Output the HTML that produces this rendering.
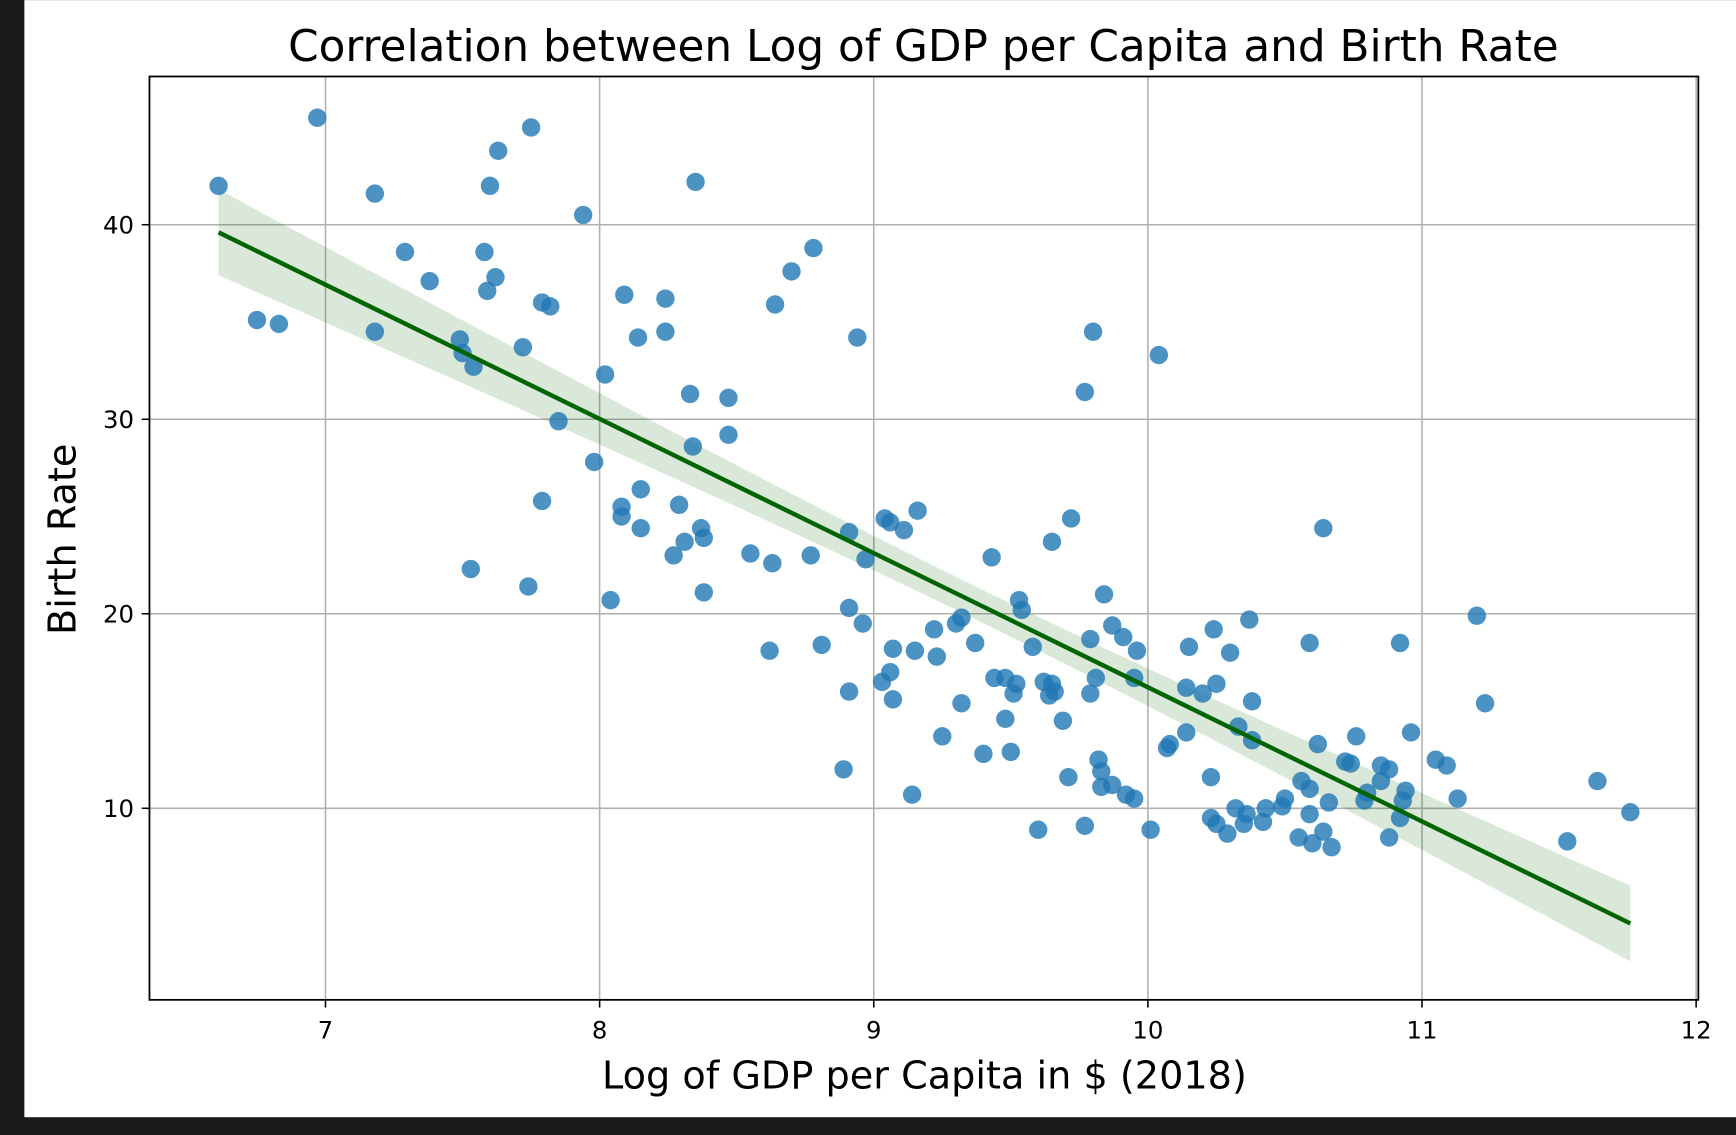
<!DOCTYPE html>
<html><head><meta charset="utf-8"><style>
html,body{margin:0;padding:0;background:#1a1a1a;}
svg{display:block;font-family:"DejaVu Sans","Liberation Sans",sans-serif;}
</style></head><body>
<svg id="chart" width="1736" height="1135" viewBox="0 0 1568 1025" xmlns="http://www.w3.org/2000/svg">
<rect x="0" y="0" width="1568" height="1025" fill="#1a1a1a"/>
<rect x="22" y="0" width="1546" height="1009" fill="#ffffff"/>
<g id="grid"></g>
<g id="band"></g>
<g id="points"></g>
<g id="fit"></g>
<rect x="135" y="69" width="1399" height="834" fill="none" stroke="#000" stroke-width="1.6"/>
<g id="ticks"></g>
<text x="834" y="55" text-anchor="middle" font-size="39.5" fill="#000">Correlation between Log of GDP per Capita and Birth Rate</text>
<text x="835" y="983" text-anchor="middle" font-size="34.5" fill="#000">Log of GDP per Capita in $ (2018)</text>
<text x="0" y="0" transform="translate(68,487) rotate(-90)" text-anchor="middle" font-size="34.5" fill="#000">Birth Rate</text>
</svg>
<script>
const xTicks = [7, 8, 9, 10, 11, 12];
const yTicks = [10, 20, 30, 40];
const gdpLog = [6.61,6.75,6.83,6.97,7.18,7.18,7.29,7.38,7.49,7.50,7.54,7.53,7.58,7.59,7.60,7.62,7.63,7.72,7.74,7.75,7.79,7.79,7.82,7.85,7.94,7.98,8.02,8.04,8.08,8.08,8.09,8.14,8.15,8.15,8.24,8.24,8.27,8.29,8.31,8.33,8.34,8.35,8.37,8.38,8.38,8.47,8.47,8.55,8.62,8.63,8.64,8.70,8.77,8.78,8.81,8.89,8.91,8.91,8.91,8.94,8.96,8.97,9.03,9.04,9.06,9.06,9.07,9.07,9.11,9.14,9.15,9.16,9.22,9.23,9.25,9.30,9.32,9.32,9.37,9.40,9.43,9.44,9.48,9.48,9.50,9.51,9.52,9.53,9.54,9.58,9.60,9.62,9.64,9.65,9.65,9.66,9.69,9.71,9.72,9.77,9.77,9.79,9.79,9.80,9.81,9.82,9.83,9.83,9.84,9.87,9.87,9.91,9.92,9.95,9.95,9.96,10.01,10.04,10.07,10.08,10.14,10.14,10.15,10.20,10.23,10.23,10.24,10.25,10.25,10.29,10.30,10.32,10.33,10.35,10.36,10.37,10.38,10.38,10.42,10.43,10.49,10.50,10.55,10.56,10.59,10.59,10.59,10.60,10.62,10.64,10.64,10.66,10.67,10.72,10.74,10.76,10.79,10.80,10.85,10.85,10.88,10.88,10.92,10.92,10.93,10.94,10.96,11.05,11.09,11.13,11.20,11.23,11.53,11.64,11.76];
const birthRate = [42.0,35.1,34.9,45.5,41.6,34.5,38.6,37.1,34.1,33.4,32.7,22.3,38.6,36.6,42.0,37.3,43.8,33.7,21.4,45.0,36.0,25.8,35.8,29.9,40.5,27.8,32.3,20.7,25.5,25.0,36.4,34.2,24.4,26.4,36.2,34.5,23.0,25.6,23.7,31.3,28.6,42.2,24.4,23.9,21.1,31.1,29.2,23.1,18.1,22.6,35.9,37.6,23.0,38.8,18.4,12.0,20.3,24.2,16.0,34.2,19.5,22.8,16.5,24.9,17.0,24.7,18.2,15.6,24.3,10.7,18.1,25.3,19.2,17.8,13.7,19.5,19.8,15.4,18.5,12.8,22.9,16.7,16.7,14.6,12.9,15.9,16.4,20.7,20.2,18.3,8.9,16.5,15.8,16.4,23.7,16.0,14.5,11.6,24.9,31.4,9.1,15.9,18.7,34.5,16.7,12.5,11.9,11.1,21.0,11.2,19.4,18.8,10.7,10.5,16.7,18.1,8.9,33.3,13.1,13.3,13.9,16.2,18.3,15.9,11.6,9.5,19.2,9.2,16.4,8.7,18.0,10.0,14.2,9.2,9.7,19.7,13.5,15.5,9.3,10.0,10.1,10.5,8.5,11.4,18.5,11.0,9.7,8.2,13.3,24.4,8.8,10.3,8.0,12.4,12.3,13.7,10.4,10.8,11.4,12.2,12.0,8.5,18.5,9.5,10.4,10.9,13.9,12.5,12.2,10.5,19.9,15.4,8.3,11.4,9.8];

const NS = "http://www.w3.org/2000/svg";
const L = 135, R = 1534, T = 69, B = 903;
function sx(v){ return 294 + (v - 7) * 247.6; }
function sy(v){ return 730 - (v - 10) * 17.57; }
function mk(tag, attrs, parent){ const e = document.createElementNS(NS, tag); for (const k in attrs) e.setAttribute(k, attrs[k]); parent.appendChild(e); return e; }

const grid = document.getElementById('grid');
const ticks = document.getElementById('ticks');
xTicks.forEach(t => {
  const g = mk('line', {x1:sx(t), x2:sx(t), y1:T, y2:B, stroke:'#b0b0b0', 'stroke-width':1.4}, grid);
  
  
  const tk = mk('line', {x1:sx(t), x2:sx(t), y1:B, y2:B+7, stroke:'#000', 'stroke-width':1.4}, ticks);
  
  
  const lb = mk('text', {x:sx(t), y:B+35, 'text-anchor':'middle', 'font-size':22, fill:'#000'}, ticks);
  lb.textContent = t;
  
  
});
yTicks.forEach(t => {
  const g = mk('line', {x1:L, x2:R, y1:sy(t), y2:sy(t), stroke:'#b0b0b0', 'stroke-width':1.4}, grid);
  
  
  const tk = mk('line', {x1:L-7, x2:L, y1:sy(t), y2:sy(t), stroke:'#000', 'stroke-width':1.4}, ticks);
  
  
  const lb = mk('text', {x:L-14, y:sy(t)+8, 'text-anchor':'end', 'font-size':22, fill:'#000'}, ticks);
  lb.textContent = t;
  
  
});

const pts = document.getElementById('points');
gdpLog.forEach((x, i) => {
  const c = mk('circle', {cx:sx(x), cy:sy(birthRate[i]), r:8.3, fill:'#1f77b4', 'fill-opacity':0.8}, pts);
  
  
});

const n = gdpLog.length;
const xm = gdpLog.reduce((a,b)=>a+b,0)/n;
const ym = birthRate.reduce((a,b)=>a+b,0)/n;
let sxx = 0, sxy = 0;
gdpLog.forEach((x,i)=>{ sxx += (x-xm)*(x-xm); sxy += (x-xm)*(birthRate[i]-ym); });
const slope = sxy/sxx, icpt = ym - slope*xm;
let sse = 0;
gdpLog.forEach((x,i)=>{ const r = birthRate[i] - (icpt + slope*x); sse += r*r; });
const se = Math.sqrt(sse/(n-2));
const xmin = Math.min(...gdpLog), xmax = Math.max(...gdpLog);
const up = [], lo = [];
for (let k = 0; k <= 60; k++) {
  const x = xmin + (xmax - xmin) * k / 60;
  const yh = icpt + slope*x;
  const h = 1.97 * se * Math.sqrt(1/n + (x-xm)*(x-xm)/sxx);
  up.push(sx(x).toFixed(1)+','+sy(yh+h).toFixed(1));
  lo.unshift(sx(x).toFixed(1)+','+sy(yh-h).toFixed(1));
}
const band = mk('polygon', {points: up.concat(lo).join(' '), fill:'#006400', 'fill-opacity':0.15}, document.getElementById('band'));


const fl = mk('line', {x1:sx(xmin), y1:sy(icpt+slope*xmin), x2:sx(xmax), y2:sy(icpt+slope*xmax), stroke:'#006400', 'stroke-width':4}, document.getElementById('fit'));


</script>
</body></html>
